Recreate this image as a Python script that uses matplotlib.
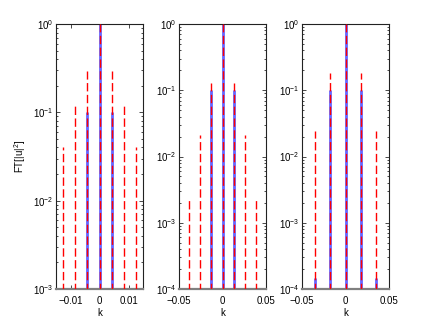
import numpy as np
import matplotlib
matplotlib.use("Agg")
import matplotlib.pyplot as plt

plt.rcParams['font.family'] = ['Liberation Sans', 'DejaVu Sans']
plt.rcParams['mathtext.fontset'] = 'custom'
plt.rcParams['mathtext.rm'] = 'Liberation Sans'
plt.rcParams['mathtext.it'] = 'Liberation Sans'

# Panel 1
k1_blue = [-0.00417, 0.0, 0.00417]
ft1_blue = [0.1, 1.0, 0.1]
k1_red = [-0.0125, -0.00833, -0.00417, 0.0, 0.00417, 0.00833, 0.0125]
ft1_red = [0.041, 0.123, 0.29, 1.0, 0.29, 0.123, 0.041]

# Panel 2
k2_blue = [-0.0127, 0.0, 0.0127]
ft2_blue = [0.1, 1.0, 0.1]
k2_red = [-0.038, -0.0253, -0.0127, 0.0, 0.0127, 0.0253, 0.038]
ft2_red = [0.0023, 0.021, 0.127, 1.0, 0.127, 0.021, 0.0023]

# Panel 3
k3_blue = [-0.0348, -0.0174, 0.0, 0.0174, 0.0348]
ft3_blue = [1.45e-4, 0.1, 1.0, 0.1, 1.45e-4]
k3_red = [-0.0348, -0.0174, 0.0, 0.0174, 0.0348]
ft3_red = [0.0243, 0.184, 1.0, 0.184, 0.0243]

panels = [
    (k1_blue, ft1_blue, k1_red, ft1_red, (-0.015, 0.015), (1e-3, 1), [-0.01, 0, 0.01], ['\u22120.01', '0', '0.01']),
    (k2_blue, ft2_blue, k2_red, ft2_red, (-0.05, 0.05), (1e-4, 1), [-0.05, 0, 0.05], ['\u22120.05', '0', '0.05']),
    (k3_blue, ft3_blue, k3_red, ft3_red, (-0.05, 0.05), (1e-4, 1), [-0.05, 0, 0.05], ['\u22120.05', '0', '0.05']),
]

fig = plt.figure(figsize=(4.36, 3.26), dpi=100)
lefts = [56/436, 179/436, 302/436]
w = 87/436
b = 37/326
h = 265/326

for i, (kb, fb, kr, fr, xl, yl, xt, xtl) in enumerate(panels):
    ax = fig.add_axes([lefts[i], b, w, h])
    ax.set_yscale('log')
    bottom = yl[0] * 0.1
    ax.vlines(kb, bottom, fb, colors='#4a4aff', linewidth=2.0, alpha=0.85, zorder=2)
    ax.vlines(kr, bottom, fr, colors='red', linewidth=1.0, linestyles=(0, (6, 2.5)), zorder=3)
    ax.set_xlim(*xl)
    ax.set_ylim(*yl)
    ax.set_xticks(xt)
    ax.set_xticklabels(xtl)
    ax.tick_params(which='both', direction='in', top=True, right=True, labelsize=7)
    ax.tick_params(axis='x', pad=5)
    ax.tick_params(axis='y', pad=2)
    ax.tick_params(which='major', length=3, width=0.5)
    ax.tick_params(which='minor', length=1.5, width=0.5)
    for s in ['top', 'left', 'right']:
        ax.spines[s].set_linewidth(0.8)
        ax.spines[s].set_color('#222222')
    ax.spines['bottom'].set_linewidth(1.6)
    ax.spines['bottom'].set_color('#808080')
    ax.set_xlabel('k', fontsize=7, labelpad=1.5)
    if i == 0:
        ax.set_ylabel('FT[|u|$^2$]', fontsize=7)
        ax.yaxis.set_label_coords(-0.32, 0.5)

fig.savefig('out.png', dpi=100)
